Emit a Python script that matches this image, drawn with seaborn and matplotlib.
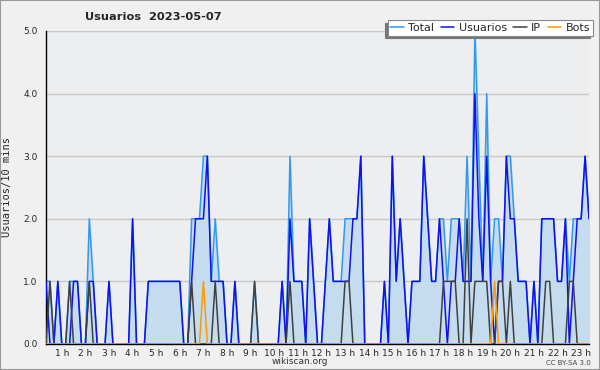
import numpy as np
import pandas as pd
import seaborn as sns
import matplotlib.pyplot as plt
from matplotlib.ticker import MultipleLocator, FixedLocator

# Values per 10 minute slot (slot 0 = 0:20)
total = [1, 1, 0, 1, 0, 0, 1, 1, 1, 0, 0, 2, 1, 0, 0, 0, 1, 0, 0, 0,
         0, 0, 2, 0, 0, 0, 1, 1, 1, 1, 1, 1, 1, 1, 1, 0, 0, 2, 2, 2,
         3, 3, 1, 2, 1, 1, 0, 0, 1, 0, 0, 0, 0, 1, 0, 0, 0, 0, 0, 0,
         1, 0, 3, 1, 1, 1, 0, 2, 1, 0, 0, 1, 2, 1, 1, 1, 2, 2, 2, 2,
         3, 0, 0, 0, 0, 0, 1, 0, 3, 1, 2, 1, 0, 1, 1, 1, 3, 2, 1, 1,
         2, 2, 1, 2, 2, 2, 1, 3, 1, 5, 3, 1, 4, 1, 2, 2, 1, 3, 3, 2,
         1, 1, 1, 0, 1, 0, 2, 2, 2, 2, 1, 1, 2, 1, 2, 2, 2, 3, 2]
usuarios = [1, 0, 0, 1, 0, 0, 0, 1, 1, 0, 0, 1, 1, 0, 0, 0, 1, 0, 0, 0,
            0, 0, 2, 0, 0, 0, 1, 1, 1, 1, 1, 1, 1, 1, 1, 0, 0, 1, 2, 2,
            2, 3, 1, 1, 1, 1, 0, 0, 1, 0, 0, 0, 0, 0, 0, 0, 0, 0, 0, 0,
            1, 0, 2, 1, 1, 1, 0, 2, 1, 0, 0, 1, 2, 1, 1, 1, 1, 1, 2, 2,
            3, 0, 0, 0, 0, 0, 1, 0, 3, 1, 2, 1, 0, 1, 1, 1, 3, 2, 1, 1,
            2, 1, 0, 1, 1, 2, 1, 1, 1, 4, 2, 1, 3, 1, 0, 1, 1, 3, 2, 2,
            1, 1, 1, 0, 1, 0, 2, 2, 2, 2, 1, 1, 2, 0, 1, 2, 2, 3, 2]
ip = [0, 1, 0, 0, 0, 0, 1, 0, 0, 0, 0, 1, 0, 0, 0, 0, 0, 0, 0, 0,
      0, 0, 0, 0, 0, 0, 0, 0, 0, 0, 0, 0, 0, 0, 0, 0, 0, 1, 0, 0,
      0, 0, 0, 1, 0, 0, 0, 0, 0, 0, 0, 0, 0, 1, 0, 0, 0, 0, 0, 0,
      0, 0, 1, 0, 0, 0, 0, 0, 0, 0, 0, 0, 0, 0, 0, 0, 1, 1, 0, 0,
      0, 0, 0, 0, 0, 0, 0, 0, 0, 0, 0, 0, 0, 0, 0, 0, 0, 0, 0, 0,
      0, 1, 1, 1, 1, 0, 0, 2, 0, 1, 1, 1, 1, 0, 0, 1, 1, 0, 1, 0,
      0, 0, 0, 0, 0, 0, 0, 1, 1, 0, 0, 0, 0, 1, 1, 0, 0, 0, 0]
bots = [0] * 40 + [1] + [0] * 73 + [1] + [0] * 24
hour_labels = [f"{h} h" for h in range(1, 24)]

df = pd.DataFrame({"slot": np.arange(len(total)), "Total": total,
                   "Usuarios": usuarios, "IP": ip, "Bots": bots})

sns.set_style("white")
plt.rcParams["font.family"] = ["DejaVu Sans"]

fig = plt.figure(figsize=(6, 3.7), dpi=100, facecolor="#f0f0f0")
ax = fig.add_axes([0.0767, 0.0703, 0.905, 0.846])
ax.set_facecolor("#eceef0")

for y in range(1, 6):
    ax.axhline(y, color="#c8c8c8", linewidth=1, zorder=0)

ax.fill_between(df["slot"], df["Total"], color="#c5dcef", zorder=1)
colors = {"Total": "#3399ee", "Usuarios": "#1010f0", "IP": "#404040", "Bots": "#ff9900"}
for name in ["Total", "Usuarios", "IP", "Bots"]:
    sns.lineplot(data=df, x="slot", y=name, color=colors[name], linewidth=1.1,
                 label=name, ax=ax, zorder=3 if name != "Total" else 2)

ax.set_xlim(0, len(total) - 1)
ax.set_ylim(0, 5)
ax.yaxis.set_major_locator(MultipleLocator(1))
ax.yaxis.set_minor_locator(MultipleLocator(0.25))
ax.set_yticklabels([f"{v:.1f}" for v in ax.get_yticks()])
ax.xaxis.set_major_locator(FixedLocator([6 * h - 2 for h in range(1, 24)]))
ax.set_xticklabels(hour_labels)
ax.xaxis.set_minor_locator(MultipleLocator(1))
ax.tick_params(axis="both", which="both", direction="out", length=3, width=0.8,
               labelsize=6.5, color="black", pad=0.5)
ax.tick_params(axis="y", which="major", length=5, pad=1)
ax.set_xlabel("")
ax.set_ylabel("Usuarios/10 mins", family="DejaVu Sans Mono", fontsize=7.5, labelpad=8)

for side in ["top", "right"]:
    ax.spines[side].set_visible(False)
for side in ["left", "bottom"]:
    ax.spines[side].set_color("black")
    ax.spines[side].set_linewidth(1)

leg = ax.legend(loc="upper right", ncol=4, fontsize=8, frameon=True, fancybox=False,
                shadow={"ox": -2, "oy": -2, "color": "#777777", "alpha": 1},
                handlelength=1.2, handletextpad=0.4, columnspacing=0.6,
                borderpad=0.25, bbox_to_anchor=(1.007, 1.035), borderaxespad=0)
leg.get_frame().set_edgecolor("#888888")
leg.get_frame().set_linewidth(0.8)
leg.set_zorder(10)

fig.text(0.142, 0.955, "Usuarios  2023-05-07", fontsize=8.2, fontweight="bold", va="center")
fig.text(0.5, 0.022, "wikiscan.org", fontsize=6.5, ha="center", va="center", color="#333333")
fig.text(0.985, 0.02, "CC BY-SA 3.0", fontsize=5, ha="right", va="center", color="#444444")
fig.patches.append(plt.Rectangle((0, 0), 1, 1, transform=fig.transFigure, fill=False,
                                 edgecolor="#999999", linewidth=1.5))

fig.savefig("out.png", dpi=100, facecolor=fig.get_facecolor())
